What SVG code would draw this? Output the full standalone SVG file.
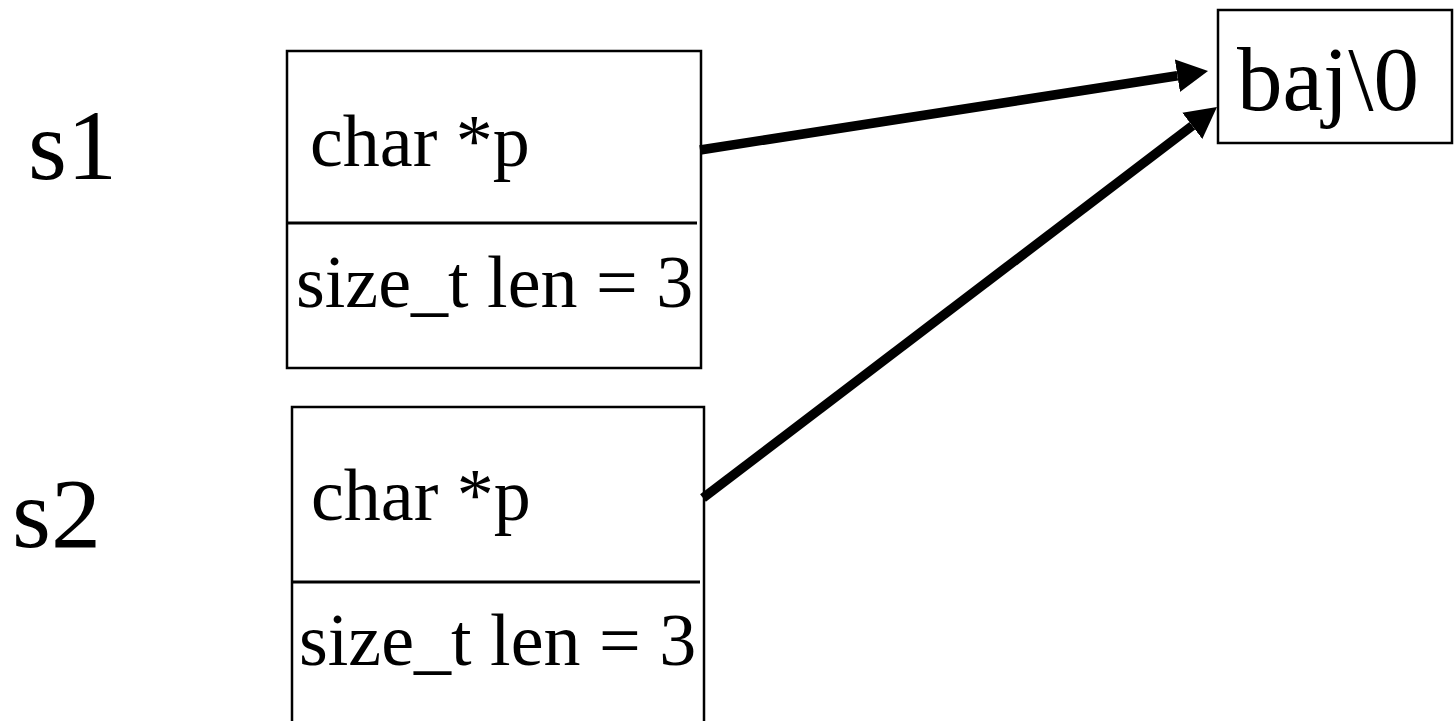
<svg xmlns="http://www.w3.org/2000/svg" width="1454" height="721" viewBox="0 0 1454 721">
<style>
text{font-family:"Liberation Serif","Times New Roman",serif;fill:#000}
.box{fill:#fff;stroke:#000;stroke-width:2.5}
.div{stroke:#000;stroke-width:3}
.f{font-size:74px}
.lbl{font-size:100px}
.big{font-size:91px}
.arr{stroke:#000;stroke-width:9.5;fill:none}
</style>
<defs>
<marker id="ah" markerUnits="userSpaceOnUse" markerWidth="34" markerHeight="36" viewBox="0 -18 34 36" refX="0" refY="0" orient="auto">
<path d="M0,-16.5 L31,0 L0,16.5 z" fill="#000"/>
</marker>
</defs>
<rect width="1454" height="721" fill="#fff"/>
<g id="label-s1"><text class="lbl" x="28" y="179">s1</text></g>
<g id="label-s2"><text class="lbl" x="12" y="547">s2</text></g>
<g id="s1">
<rect class="box" x="287" y="51" width="414" height="317"/>
<line class="div" x1="287" y1="223" x2="697" y2="223"/>
<text class="f" x="310" y="166">char *p</text>
<text class="f" x="296" y="307">size_t len = 3</text>
</g>
<g id="s2">
<rect class="box" x="292" y="407" width="412" height="340"/>
<line class="div" x1="292" y1="582" x2="700" y2="582"/>
<text class="f" x="311" y="520">char *p</text>
<text class="f" x="299" y="665">size_t len = 3</text>
</g>
<g id="str">
<rect class="box" x="1218" y="10" width="234" height="133"/>
<text class="big" x="1237" y="110">baj\0</text>
</g>
<g id="connectors">
<line class="arr" x1="700" y1="150" x2="1177.4" y2="75.8" marker-end="url(#ah)"/>
<line class="arr" x1="703" y1="498" x2="1192.3" y2="125.8" marker-end="url(#ah)"/>
</g>
</svg>
